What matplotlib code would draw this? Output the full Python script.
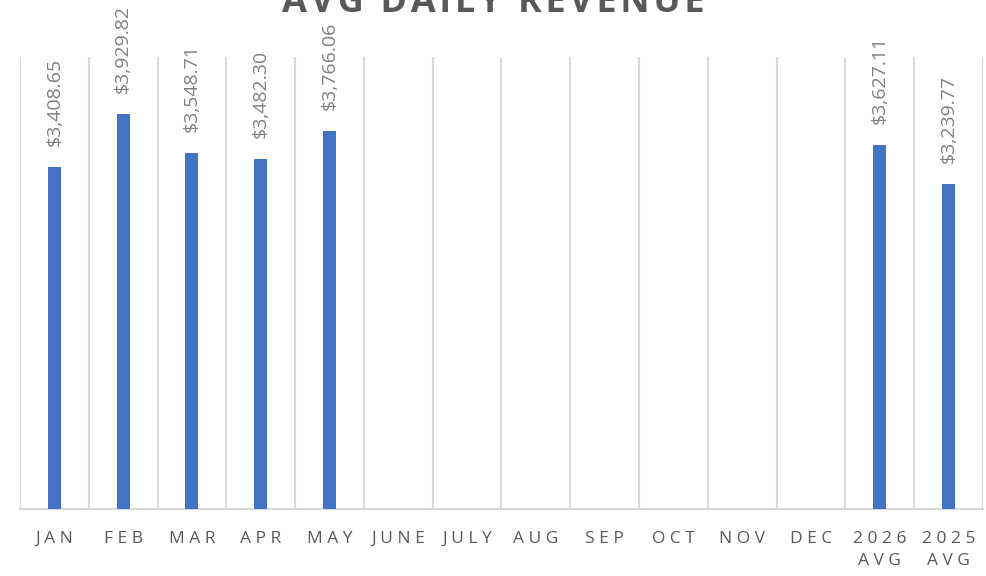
import matplotlib
matplotlib.use("Agg")
import matplotlib.pyplot as plt
import numpy as np

categories = ["JAN", "FEB", "MAR", "APR", "MAY", "JUNE", "JULY", "AUG", "SEP",
              "OCT", "NOV", "DEC", "2026\nAVG", "2025\nAVG"]
values = [3408.65, 3929.82, 3548.71, 3482.30, 3766.06, None, None, None, None,
          None, None, None, 3627.11, 3239.77]
title = "AVG DAILY REVENUE"

plt.rcParams['font.family'] = ['Open Sans', 'DejaVu Sans']

fig = plt.figure(figsize=(9.86, 5.76), dpi=100)
ax = fig.add_axes([20/986, 1-509/576, (983-20)/986, (509-57)/576])

x = np.arange(len(categories))
vals = [v if v is not None else 0 for v in values]
bars = ax.bar(x, vals, width=0.19, color="#4472C4", zorder=3)
for xi, v in zip(x, values):
    if v is None:
        continue
    ax.annotate(f"${v:,.2f}", (xi, v), xytext=(0, 15), textcoords="offset points",
                rotation=90, ha="center", va="bottom", fontsize=14,
                color="#7F7F7F", annotation_clip=False)

ax.set_xlim(-0.5, len(categories) - 0.5)
ax.set_ylim(0, 4500)
ax.set_yticks([])
ax.set_xticks(x)

def spaced(s):
    return "\n".join(" ".join(list(line)) for line in s.split("\n"))

ax.set_xticklabels([spaced(c) for c in categories], fontsize=12.5, color="#595959",
                   linespacing=1.5, va="top")
ax.tick_params(axis="x", length=0, pad=16)
ax.set_xticks(np.arange(-0.5, len(categories)), minor=True)
ax.tick_params(axis="x", which="minor", length=0)
ax.grid(True, axis="x", which="minor", color="#D9D9D9", linewidth=1.5, zorder=0)
ax.grid(False, axis="x", which="major")
for s in ["top", "left", "right"]:
    ax.spines[s].set_visible(False)
ax.spines["bottom"].set_color("#D9D9D9")
ax.spines["bottom"].set_linewidth(1.5)

fig.text(0.5, 1 - 12/576, "\u200a".join(title), ha="center", va="baseline",
         fontsize=26, fontweight="bold", color="#595959")

fig.savefig("out.png", dpi=100)
